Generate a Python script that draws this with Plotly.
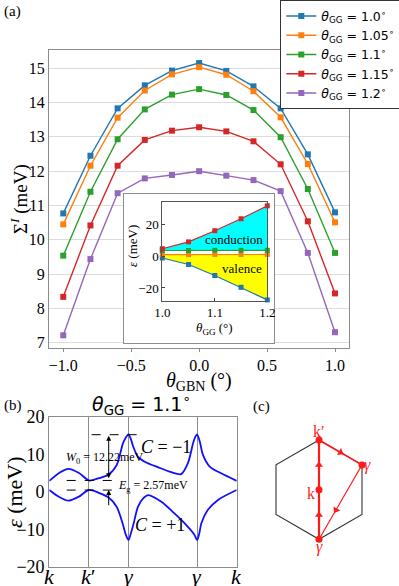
import numpy as np
import plotly.graph_objects as go

W, H = 399, 586

# ---------------- data: panel (a) ----------------
theta_gbn = [-1.0, -0.8, -0.6, -0.4, -0.2, 0.0, 0.2, 0.4, 0.6, 0.8, 1.0]
sigma_100 = [10.77, 12.45, 13.83, 14.50, 14.93, 15.15, 14.92, 14.47, 13.83, 12.49, 10.80]
sigma_105 = [10.45, 12.16, 13.56, 14.35, 14.82, 15.03, 14.81, 14.33, 13.57, 12.21, 10.51]
sigma_110 = [9.54, 11.40, 12.93, 13.80, 14.23, 14.39, 14.22, 13.78, 12.99, 11.48, 9.62]
sigma_115 = [8.34, 10.42, 12.16, 12.91, 13.18, 13.28, 13.16, 12.87, 12.20, 10.54, 8.44]
sigma_120 = [7.22, 9.44, 11.36, 11.79, 11.89, 12.00, 11.87, 11.74, 11.42, 9.62, 7.31]
series_names = ["1.0", "1.05", "1.1", "1.15", "1.2"]
series_colors = ["#1f77b4", "#ff7f0e", "#2ca02c", "#d62728", "#9467bd"]
main_yticks = [7, 8, 9, 10, 11, 12, 13, 14, 15]
main_xticks = [-1.0, -0.5, 0.0, 0.5, 1.0]

# inset
theta_gg = [1.0, 1.05, 1.1, 1.15, 1.2]
cond_top = [4.6, 8.9, 15.9, 23.4, 31.5]
cond_bot = [3.5, 3.5, 3.6, 3.6, 3.6]
val_top = [0.9, 0.9, 1.0, 1.0, 1.0]
val_bot = [-1.2, -5.3, -12.2, -19.6, -27.5]

# ---------------- data: panel (b) ----------------
kpath_pos = [0.0, 1.0, 2.0, 2.0 + np.sqrt(3), 3.0 + np.sqrt(3)]
kpath_labels = ["<i>k</i>", "<i>k</i>′", "<i>γ</i>", "<i>γ</i>", "<i>k</i>"]
band_up_k = [0.0, 0.25, 0.48, 0.75, 1.0, 1.25, 1.49, 1.7, 1.86, 1.93, 2.0, 2.06, 2.12, 2.24,
             2.41, 2.75, 3.08, 3.33, 3.5, 3.63, 3.68, 3.732, 3.8, 3.88, 4.05, 4.34, 4.732]
band_up_e = [2.9, 5.0, 6.1, 5.0, 3.0, 3.6, 4.5, 7.1, 12.9, 14.4, 15.3, 14.0, 12.0, 9.3,
             8.0, 6.5, 5.2, 4.7, 7.6, 12.9, 14.5, 15.3, 13.4, 9.8, 6.7, 4.9, 2.9]
band_dn_k = [0.0, 0.25, 0.48, 0.75, 1.0, 1.25, 1.49, 1.7, 1.85, 1.93, 2.0, 2.06, 2.12, 2.24,
             2.37, 2.5, 2.83, 3.16, 3.46, 3.66, 3.732, 3.79, 3.84, 4.0, 4.26, 4.732]
band_dn_e = [0.45, -1.4, -2.4, -1.3, 0.45, -0.3, -1.5, -4.0, -8.4, -11.4, -12.9, -11.1, -8.9, -4.0,
             -1.8, -0.9, -2.7, -5.8, -8.9, -11.4, -12.9, -11.0, -8.4, -4.9, -2.2, 0.45]
level_top, level_cb, level_vb = 15.2, 3.0, 0.43

# ---------------- data: panel (c) ----------------
hex_x = [0.0, -0.866, -0.866, 0.0, 0.866, 0.866, 0.0]
hex_y = [1.0, 0.5, -0.5, -1.0, -0.5, 0.5, 1.0]
pts_x = [0.0, 0.866, 0.0, 0.0]   # k', gamma, k, gamma
pts_y = [1.0, 0.5, 0.0, -1.0]
arrow_x = [0.0, 0.0, 0.433, 0.342]
arrow_y = [0.5, -0.51, 0.75, -0.41]
arrow_ang = [0, 0, 120, 210]

serif = "Liberation Serif"
sans = "DejaVu Sans"


def fx(px):
    return px / W


def fy(py):
    return 1 - py / H


fig = go.Figure()

# ---- (a) main ----
for name, vals, col in zip(series_names,
                           [sigma_100, sigma_105, sigma_110, sigma_115, sigma_120],
                           series_colors):
    fig.add_trace(go.Scatter(
        x=theta_gbn, y=vals, mode="lines+markers",
        line=dict(color=col, width=1.4),
        marker=dict(symbol="square", size=6, color=col),
        name="<i>θ</i><sub>GG</sub> = " + name + "<sup>∘</sup>",
        xaxis="x", yaxis="y", cliponaxis=False))

# inset background box
fig.add_trace(go.Scatter(x=[None], y=[None], xaxis="x2", yaxis="y2", showlegend=False))

# inset
fig.add_trace(go.Scatter(x=theta_gg, y=val_bot, mode="lines+markers",
                         line=dict(color=series_colors[0], width=1.2),
                         marker=dict(symbol="square", size=5, color=series_colors[0]),
                         xaxis="x3", yaxis="y3", showlegend=False, cliponaxis=False))
fig.add_trace(go.Scatter(x=theta_gg, y=val_top, mode="lines+markers",
                         line=dict(color=series_colors[1], width=1.2),
                         marker=dict(symbol="square", size=5, color=series_colors[1]),
                         fill="tonexty", fillcolor="#ffff00",
                         xaxis="x3", yaxis="y3", showlegend=False, cliponaxis=False))
fig.add_trace(go.Scatter(x=theta_gg, y=cond_bot, mode="lines+markers",
                         line=dict(color=series_colors[2], width=1.2),
                         marker=dict(symbol="square", size=5, color=series_colors[2]),
                         xaxis="x3", yaxis="y3", showlegend=False, cliponaxis=False))
fig.add_trace(go.Scatter(x=theta_gg, y=cond_top, mode="lines+markers",
                         line=dict(color=series_colors[3], width=1.2),
                         marker=dict(symbol="square", size=5, color=series_colors[3]),
                         fill="tonexty", fillcolor="#00ffff",
                         xaxis="x3", yaxis="y3", showlegend=False, cliponaxis=False))

# ---- (b) bands ----
fig.add_trace(go.Scatter(x=band_up_k, y=band_up_e, mode="lines",
                         line=dict(color="#1010ff", width=1.8, shape="spline", smoothing=0.8),
                         xaxis="x4", yaxis="y4", showlegend=False))
fig.add_trace(go.Scatter(x=band_dn_k, y=band_dn_e, mode="lines",
                         line=dict(color="#1010ff", width=1.8, shape="spline", smoothing=0.8),
                         xaxis="x4", yaxis="y4", showlegend=False))

# ---- (c) BZ ----
red = "#ff1a1a"
fig.add_trace(go.Scatter(x=hex_x, y=hex_y, mode="lines", line=dict(color="#333333", width=1.1),
                         xaxis="x5", yaxis="y5", showlegend=False))
fig.add_trace(go.Scatter(x=[pts_x[3], pts_x[0]], y=[pts_y[3], pts_y[0]], mode="lines",
                         line=dict(color=red, width=2.2), xaxis="x5", yaxis="y5", showlegend=False))
fig.add_trace(go.Scatter(x=[pts_x[0], pts_x[1]], y=[pts_y[0], pts_y[1]], mode="lines",
                         line=dict(color=red, width=1.6), xaxis="x5", yaxis="y5", showlegend=False))
fig.add_trace(go.Scatter(x=[pts_x[1], pts_x[3]], y=[pts_y[1], pts_y[3]], mode="lines",
                         line=dict(color=red, width=1.1), xaxis="x5", yaxis="y5", showlegend=False))
fig.add_trace(go.Scatter(x=pts_x, y=pts_y, mode="markers", marker=dict(color=red, size=7),
                         xaxis="x5", yaxis="y5", showlegend=False, cliponaxis=False))
fig.add_trace(go.Scatter(x=arrow_x, y=arrow_y, mode="markers",
                         marker=dict(color=red, size=7, symbol="triangle-up", angle=arrow_ang),
                         xaxis="x5", yaxis="y5", showlegend=False, cliponaxis=False))

tickfont = dict(family=serif, size=16, color="black")
frame = "#8c8c8c"

# panel (c) geometry
cx, cy, R = 319.0, 489.7, 49.65
c_l, c_r, c_t, c_b = 254.0, 384.0, 414.7, 564.7

fig.update_layout(
    width=W, height=H, autosize=False,
    margin=dict(l=0, r=0, t=0, b=0, pad=0, autoexpand=False),
    paper_bgcolor="white", plot_bgcolor="white",
    showlegend=True,
    legend=dict(x=fx(280), y=1.0, xanchor="left", yanchor="top",
                bgcolor="white", bordercolor="#333333", borderwidth=1.3,
                font=dict(family=sans, size=12.5, color="black"),
                itemwidth=30, tracegroupgap=0, traceorder="normal"),
    xaxis=dict(domain=[fx(49), fx(349)], range=[-1.105, 1.103], anchor="y",
               tickvals=main_xticks, tickformat=".1f", tickfont=tickfont,
               ticks="outside", ticklen=3, tickcolor=frame,
               showline=True, mirror=True, linecolor=frame, linewidth=1.3,
               showgrid=False, zeroline=False),
    yaxis=dict(domain=[fy(348), fy(50)], range=[6.85, 15.53], anchor="x",
               tickvals=main_yticks, tickfont=tickfont, ticks="",
               showline=True, mirror=True, linecolor=frame, linewidth=1.3,
               showgrid=True, gridcolor="#dcdcdc", gridwidth=1, zeroline=False),
    xaxis2=dict(domain=[fx(124.3), fx(274.3)], range=[0, 1], anchor="y2",
                showline=True, mirror=True, linecolor=frame, linewidth=1.2,
                showticklabels=False, ticks="", showgrid=False, zeroline=False),
    yaxis2=dict(domain=[fy(343), fy(194.3)], range=[0, 1], anchor="x2",
                showline=True, mirror=True, linecolor=frame, linewidth=1.2,
                showticklabels=False, ticks="", showgrid=False, zeroline=False),
    xaxis3=dict(domain=[fx(162.3), fx(267.3)], range=[1.0, 1.2], anchor="y3",
                tickvals=[1.0, 1.1, 1.2], tickformat=".1f",
                tickfont=dict(family=serif, size=13, color="black"),
                ticks="inside", ticklen=3, tickcolor="#444",
                showline=True, mirror=True, linecolor="#555", linewidth=1,
                showgrid=False, zeroline=False),
    yaxis3=dict(domain=[fy(300.7), fy(201.7)], range=[-28.0, 34.1], anchor="x3",
                tickvals=[-20, 0, 20],
                tickfont=dict(family=serif, size=13, color="black"),
                ticks="inside", ticklen=3, tickcolor="#444",
                showline=True, mirror=True, linecolor="#555", linewidth=1,
                showgrid=False, zeroline=False),
    xaxis4=dict(domain=[fx(49.3), fx(236.7)], range=[kpath_pos[0], kpath_pos[-1]], anchor="y4",
                tickvals=kpath_pos, showticklabels=False, ticks="",
                showline=True, mirror=True, linecolor=frame, linewidth=1.3,
                showgrid=True, gridcolor="#8c8c8c", gridwidth=1, zeroline=False),
    yaxis4=dict(domain=[fy(566.7), fy(416.7)], range=[-20, 20], anchor="x4",
                tickvals=[-20, -10, 0, 10, 20],
                tickfont=dict(family=serif, size=18, color="black"), ticks="",
                showline=True, mirror=True, linecolor=frame, linewidth=1.3,
                showgrid=False, zeroline=False),
    xaxis5=dict(domain=[fx(c_l), fx(c_r)], range=[(c_l - cx) / R, (c_r - cx) / R], anchor="y5",
                visible=False),
    yaxis5=dict(domain=[fy(c_b), fy(c_t)], range=[(cy - c_b) / R, (cy - c_t) / R], anchor="x5",
                visible=False),
)

# dashed guide lines in (b)
for (x0, x1, yv) in [(1.07, 2.32, level_top), (0.44, 1.6, level_cb), (0.44, 1.58, level_vb)]:
    fig.add_shape(type="line", xref="x4", yref="y4", x0=x0, x1=x1, y0=yv, y1=yv,
                  line=dict(color="black", width=1, dash="dash"))

ann = []
# panel labels
ann.append(dict(text="(a)", x=fx(2), y=fy(12), xanchor="left",
                font=dict(family=serif, size=15)))
ann.append(dict(text="(b)", x=fx(2), y=fy(405), xanchor="left",
                font=dict(family=serif, size=15)))
ann.append(dict(text="(c)", x=fx(251), y=fy(406), xanchor="left",
                font=dict(family=serif, size=15)))
# axis titles (a)
ann.append(dict(text="Σ<sup><i>I</i></sup> (meV)", x=fx(19), y=fy(199), textangle=-90,
                font=dict(family=serif, size=19)))
ann.append(dict(text="<i>θ</i><sub>GBN</sub> (°)", x=fx(199), y=fy(381),
                font=dict(family=serif, size=20)))
# inset titles / text
ann.append(dict(text="<i>ε</i> (meV)", x=fx(132), y=fy(246), textangle=-90,
                font=dict(family=serif, size=13)))
ann.append(dict(text="<i>θ</i><sub>GG</sub> (°)", x=fx(214), y=fy(328),
                font=dict(family=serif, size=13)))
ann.append(dict(text="conduction", x=1.137, y=10.4, xref="x3", yref="y3",
                font=dict(family=serif, size=13)))
ann.append(dict(text="valence", x=1.152, y=-7.6, xref="x3", yref="y3",
                font=dict(family=serif, size=13)))
# (b) titles and text
ann.append(dict(text="<i>θ</i><sub>GG</sub> = 1.1<sup>∘</sup>", x=fx(141), y=fy(404),
                font=dict(family=sans, size=19)))
ann.append(dict(text="<i>ε</i> (meV)", x=fx(15), y=fy(492), textangle=-90,
                font=dict(family=serif, size=22)))
ann.append(dict(text="<i>W</i><sub>0</sub> = 12.22meV", x=0.38, y=8.9, xref="x4", yref="y4",
                xanchor="left", font=dict(family=serif, size=12)))
ann.append(dict(text="<i>E</i><sub>g</sub> = 2.57meV", x=1.68, y=1.4, xref="x4", yref="y4",
                xanchor="left", font=dict(family=serif, size=12)))
ann.append(dict(text="<i>C</i> = −1", x=2.95, y=11.8, xref="x4", yref="y4",
                font=dict(family=serif, size=18)))
ann.append(dict(text="<i>C</i> = +1", x=2.8, y=-8.8, xref="x4", yref="y4",
                font=dict(family=serif, size=18)))
# k-path tick labels of (b)
for kp, kl in zip(kpath_pos, kpath_labels):
    ann.append(dict(text=kl, x=kp, y=fy(576), xref="x4", yref="paper",
                    font=dict(family=serif, size=22)))
# arrows in (b)
ann.append(dict(text="", x=1.5, y=level_top - 0.3, ax=1.5, ay=level_cb + 0.2,
                xref="x4", yref="y4", axref="x4", ayref="y4", showarrow=True,
                arrowhead=2, arrowsize=1, arrowwidth=1, arrowcolor="black", arrowside="end+start"))
ann.append(dict(text="", x=1.5, y=level_vb, ax=1.5, ay=-4.0,
                xref="x4", yref="y4", axref="x4", ayref="y4", showarrow=True,
                arrowhead=2, arrowsize=1, arrowwidth=1, arrowcolor="black"))
# (c) labels
for txt, lx, ly in [("k′", 0.0, 1.17), ("<i>γ</i>", 0.98, 0.5), ("k", -0.16, -0.07),
                    ("<i>γ</i>", 0.0, -1.16)]:
    ann.append(dict(text=txt, x=lx, y=ly, xref="x5", yref="y5",
                    font=dict(family=serif, size=16, color=red)))

for a in ann:
    a.setdefault("xref", "paper")
    a.setdefault("yref", "paper")
    a.setdefault("showarrow", False)
    a.setdefault("xanchor", "center")
    a.setdefault("yanchor", "middle")
    a.setdefault("font", {})
    a["font"].setdefault("color", "black")
fig.update_layout(annotations=ann)

fig.write_html("out.html", config={"displayModeBar": False},
               post_script="document.body.style.margin='0';document.body.style.overflow='hidden';")
